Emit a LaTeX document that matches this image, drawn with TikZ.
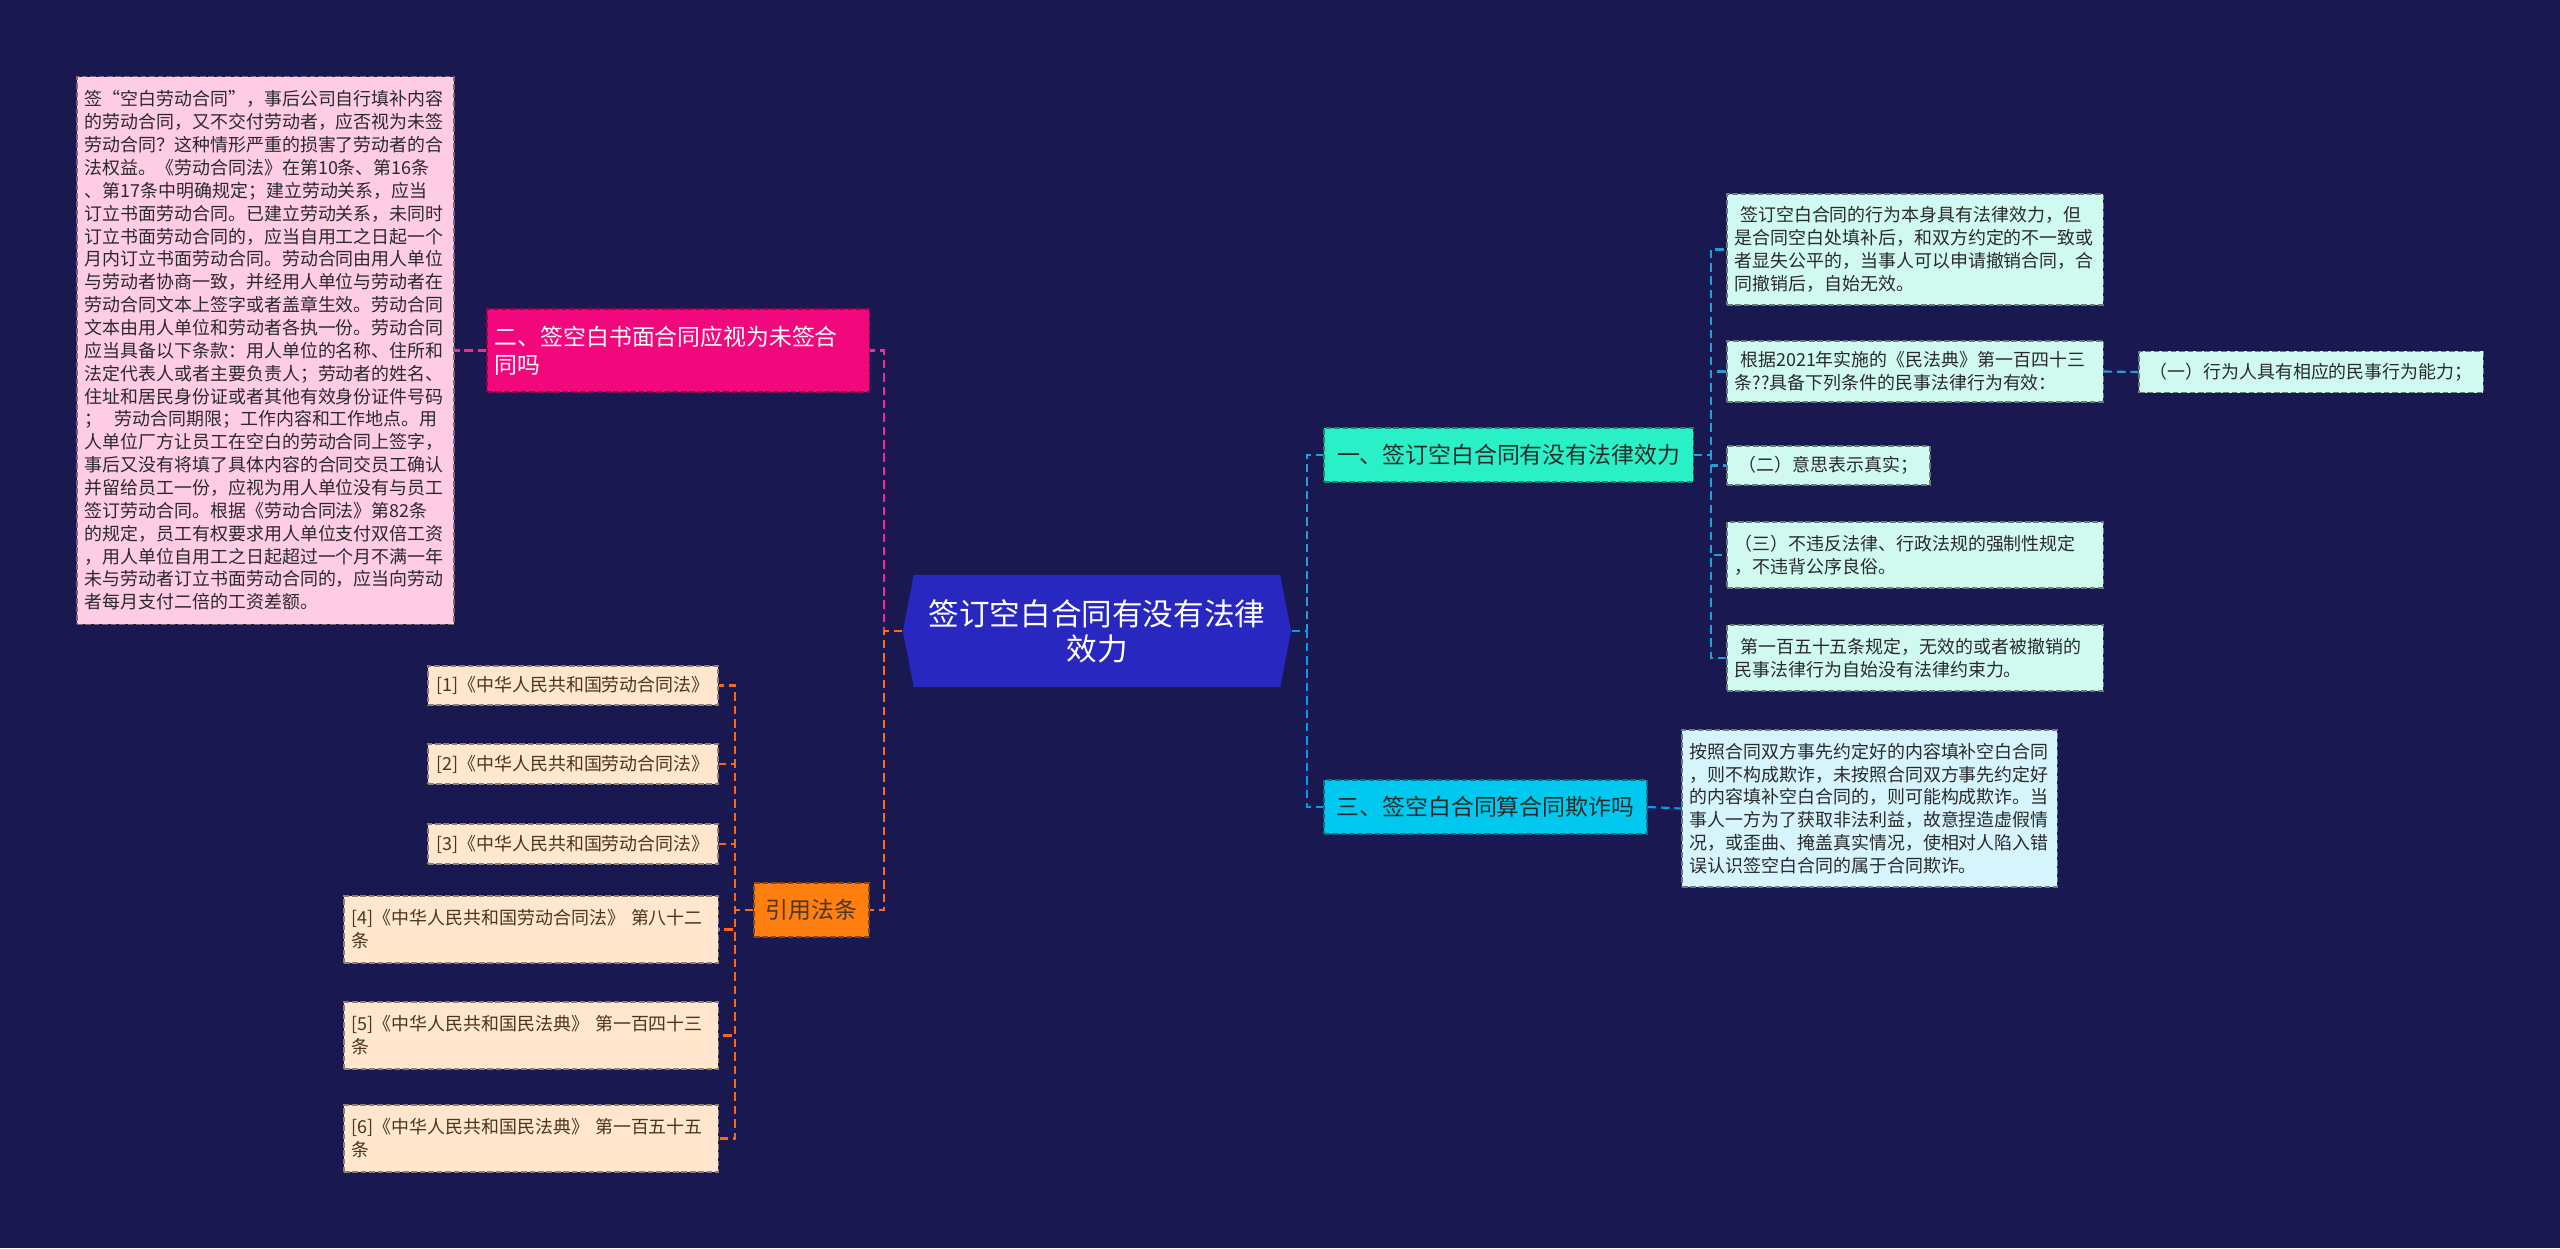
\documentclass[tikz,border=0pt]{standalone}
\usepackage{fontspec}
\newfontfamily\cjk{Noto Sans CJK SC}
\usetikzlibrary{shapes.symbols}

\definecolor{navy}{HTML}{1A1850}
\definecolor{rootblue}{HTML}{2828C0}
\definecolor{magenta}{HTML}{F2077C}
\definecolor{pinkleaf}{HTML}{FFCCE6}
\definecolor{mint}{HTML}{2AF0C8}
\definecolor{mintleaf}{HTML}{D0FAF0}
\definecolor{skyblue}{HTML}{00C8EE}
\definecolor{skyleaf}{HTML}{D6F4FC}
\definecolor{orange}{HTML}{FF7F10}
\definecolor{peach}{HTML}{FFE6CC}
\definecolor{darktext}{HTML}{2A2A2A}
\definecolor{browntext}{HTML}{4A3622}

\newcommand\leaffont{\cjk\fontsize{5.1pt}{6.5pt}\selectfont}
\newcommand\topicfont{\cjk\fontsize{6.5pt}{8pt}\selectfont}
\newcommand\rootfont{\cjk\fontsize{8.7pt}{10pt}\selectfont}

\begin{document}
\begin{tikzpicture}[x=0.01cm,y=-0.01cm]
	\tikzstyle{box}=[draw, dash pattern=on 1.6pt off 0.8pt, line width=0.35pt, inner xsep=0.08cm, inner ysep=0.05cm]
	\tikzstyle{leaf}=[box, font=\leaffont, text=darktext, align=left, text width=3.6cm]
	\tikzstyle{topic}=[box, font=\topicfont, text=darktext, align=center]
	\tikzstyle{cite}=[leaf, fill=peach, draw=peach!55!black, text=browntext]
	\tikzstyle{link}=[dash pattern=on 2.4pt off 1.4pt, line width=0.6pt]

	\fill[navy] (0,0) rectangle (2560,1248);

	\node[signal, signal to=west and east, signal pointer angle=158, fill=rootblue, text=white,
		font=\rootfont, align=center, minimum width=3.88cm, minimum height=1.12cm] (root) at (1097,631)
		{签订空白合同有没有法律\\效力};

	\node[topic, fill=mint, draw=mint!55!black, minimum width=3.69cm, minimum height=0.54cm] (t1) at (1508.5,455)
		{一、签订空白合同有没有法律效力};
	\node[topic, fill=magenta, draw=magenta!60!black, text=white, align=left, text width=3.66cm,
		minimum height=0.83cm] (t2) at (678,350.5)
		{二、签空白书面合同应视为未签合\\同吗};
	\node[topic, fill=skyblue, draw=skyblue!55!black, minimum width=3.23cm, minimum height=0.54cm] (t3) at (1485.5,807)
		{三、签空白合同算合同欺诈吗};
	\node[topic, fill=orange, draw=orange!55!black, text=browntext, minimum width=1.15cm, minimum height=0.54cm] (t4) at (811.5,910)
		{引用法条};

	\node[leaf, fill=mintleaf, draw=mintleaf!50!black, minimum height=1.11cm] (a1) at (1915,249.5)
		{\hspace*{0.3em}签订空白合同的行为本身具有法律效力，但\\是合同空白处填补后，和双方约定的不一致或\\者显失公平的，当事人可以申请撤销合同，合\\同撤销后，自始无效。};
	\node[leaf, fill=mintleaf, draw=mintleaf!50!black, minimum height=0.61cm] (a2) at (1915,371.5)
		{\hspace*{0.3em}根据2021年实施的《民法典》第一百四十三\\条??具备下列条件的民事法律行为有效：};
	\node[leaf, fill=mintleaf, draw=mintleaf!50!black, text width=, align=center, minimum width=3.44cm,
		minimum height=0.41cm] (a2i) at (2311,372)
		{（一）行为人具有相应的民事行为能力；};
	\node[leaf, fill=mintleaf, draw=mintleaf!50!black, text width=, align=center, minimum width=2.03cm,
		minimum height=0.39cm] (a3) at (1828.5,465.5)
		{（二）意思表示真实；};
	\node[leaf, fill=mintleaf, draw=mintleaf!50!black, minimum height=0.66cm] (a4) at (1915,555)
		{（三）不违反法律、行政法规的强制性规定\\，不违背公序良俗。};
	\node[leaf, fill=mintleaf, draw=mintleaf!50!black, minimum height=0.66cm] (a5) at (1915,658)
		{\hspace*{0.3em}第一百五十五条规定，无效的或者被撤销的\\民事法律行为自始没有法律约束力。};

	\node[leaf, fill=pinkleaf, draw=pinkleaf!50!black, text width=3.61cm, minimum height=5.47cm] (l2) at (265.5,350.5)
		{签“空白劳动合同”，事后公司自行填补内容\\的劳动合同，又不交付劳动者，应否视为未签\\劳动合同？这种情形严重的损害了劳动者的合\\法权益。《劳动合同法》在第10条、第16条\\、第17条中明确规定；建立劳动关系，应当\\订立书面劳动合同。已建立劳动关系，未同时\\订立书面劳动合同的，应当自用工之日起一个\\月内订立书面劳动合同。劳动合同由用人单位\\与劳动者协商一致，并经用人单位与劳动者在\\劳动合同文本上签字或者盖章生效。劳动合同\\文本由用人单位和劳动者各执一份。劳动合同\\应当具备以下条款：用人单位的名称、住所和\\法定代表人或者主要负责人；劳动者的姓名、\\住址和居民身份证或者其他有效身份证件号码\\；\ \ 劳动合同期限；工作内容和工作地点。用\\人单位厂方让员工在空白的劳动合同上签字，\\事后又没有将填了具体内容的合同交员工确认\\并留给员工一份，应视为用人单位没有与员工\\签订劳动合同。根据《劳动合同法》第82条\\的规定，员工有权要求用人单位支付双倍工资\\，用人单位自用工之日起超过一个月不满一年\\未与劳动者订立书面劳动合同的，应当向劳动\\者每月支付二倍的工资差额。};

	\node[leaf, fill=skyleaf, draw=skyleaf!50!black, text width=3.59cm, minimum height=1.57cm] (b1) at (1869.5,808.5)
		{按照合同双方事先约定好的内容填补空白合同\\，则不构成欺诈，未按照合同双方事先约定好\\的内容填补空白合同的，则可能构成欺诈。当\\事人一方为了获取非法利益，故意捏造虚假情\\况，或歪曲、掩盖真实情况，使相对人陷入错\\误认识签空白合同的属于合同欺诈。};

	\node[cite, text width=, align=center, minimum width=2.9cm, minimum height=0.39cm] (r1) at (573,685.5)
		{[1]《中华人民共和国劳动合同法》};
	\node[cite, text width=, align=center, minimum width=2.9cm, minimum height=0.4cm] (r2) at (573,764)
		{[2]《中华人民共和国劳动合同法》};
	\node[cite, text width=, align=center, minimum width=2.9cm, minimum height=0.4cm] (r3) at (573,844)
		{[3]《中华人民共和国劳动合同法》};
	\node[cite, text width=3.58cm, minimum height=0.67cm] (r4) at (531,929.5)
		{[4]《中华人民共和国劳动合同法》 第八十二\\条};
	\node[cite, text width=3.58cm, minimum height=0.67cm] (r5) at (531,1035.5)
		{[5]《中华人民共和国民法典》 第一百四十三\\条};
	\node[cite, text width=3.58cm, minimum height=0.67cm] (r6) at (531,1138.5)
		{[6]《中华人民共和国民法典》 第一百五十五\\条};

	\draw[link, draw=magenta!85!white] (root.west) -- ++(-18,0) |- (t2.east);
	\draw[link, draw=magenta!85!white] (t2.west) -- (l2.east);
	\draw[link, draw=orange!85!red] (root.west) -- ++(-18,0) |- (t4.east);
	\foreach \n in {1,...,6}
		\draw[link, draw=orange!80!red] (t4.west) -- ++(-18,0) |- (r\n.east);
	\draw[link, draw=cyan!70!teal] (root.east) -- ++(15,0) |- (t1.west);
	\draw[link, draw=skyblue!80!blue] (root.east) -- ++(15,0) |- (t3.west);
	\foreach \n in {1,...,5}
		\draw[link, draw=cyan!70!teal] (t1.east) -- ++(17,0) |- (a\n.west);
	\draw[link, draw=cyan!70!teal] (a2.east) -- (a2i.west);
	\draw[link, draw=skyblue!80!blue] (t3.east) -- (b1.west);
\end{tikzpicture}
\end{document}
